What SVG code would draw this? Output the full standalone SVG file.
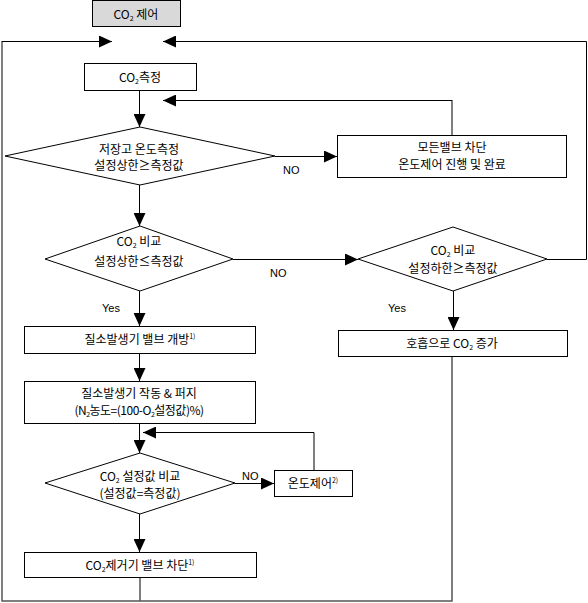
<svg xmlns="http://www.w3.org/2000/svg" width="588" height="603" viewBox="0 0 588 603">
<defs>
<marker id="ah" viewBox="0 0 13 12" refX="13" refY="6" markerWidth="13" markerHeight="12" markerUnits="userSpaceOnUse" orient="auto">
<path d="M0,0 L13,6 L0,12 z" fill="#000"/>
</marker>
<style>
.box{fill:#fff;stroke:#000;stroke-width:1}
.gray{fill:#d9d9d9;stroke:#000;stroke-width:1}
.dia{fill:#fff;stroke:#000;stroke-width:1}
.t{font-family:"Noto Sans CJK KR","Noto Sans",sans-serif;font-size:12px;fill:#000;text-anchor:middle}
.l{font-family:"Liberation Sans",Arial,sans-serif;font-size:11px;fill:#000}
.sub{font-size:7px}
.sup{font-size:7px}
.c{fill:none;stroke:#000;stroke-width:1}
.g{fill:none;stroke:#555;stroke-width:1.5}
</style>
</defs>
<rect width="588" height="603" fill="#fff"/>
<g id="connectors">
<path class="g" d="M452,356 V601 H2 V41"/>
<path class="c" d="M2,41.5 H112" marker-end="url(#ah)"/>
<path class="g" d="M140,577 V601"/>
<path class="c" d="M547,259.5 H586.5 V41.5 H163" marker-end="url(#ah)"/>
<path class="c" d="M139.5,90 V127" marker-end="url(#ah)"/>
<path class="c" d="M139.5,185 V226" marker-end="url(#ah)"/>
<path class="c" d="M275,156.5 H337" marker-end="url(#ah)"/>
<path class="g" d="M452,135 V100"/>
<path class="c" d="M452,100.5 H163" marker-end="url(#ah)"/>
<path class="c" d="M233,259.5 H358" marker-end="url(#ah)"/>
<path class="c" d="M139.5,291 V326" marker-end="url(#ah)"/>
<path class="c" d="M453.5,291 V330" marker-end="url(#ah)"/>
<path class="c" d="M139.5,353 V381" marker-end="url(#ah)"/>
<path class="c" d="M139.5,423 V453" marker-end="url(#ah)"/>
<path class="g" d="M314,470 V432.5"/>
<path class="c" d="M314,432.5 H143" marker-end="url(#ah)"/>
<path class="c" d="M235,483.5 H274" marker-end="url(#ah)"/>
<path class="c" d="M139.5,514 V552" marker-end="url(#ah)"/>
<text class="l" x="283" y="174">NO</text>
<text class="l" x="270" y="277">NO</text>
<text class="l" x="102" y="312">Yes</text>
<text class="l" x="388" y="312">Yes</text>
<text class="l" x="242" y="480">NO</text>
</g>
<g id="n-co2-control">
<rect class="gray" x="92.5" y="0.5" width="88" height="26"/>
<text class="t" x="136" y="19">CO<tspan class="sub" dy="2">2</tspan><tspan dy="-2"> 제어</tspan></text>
</g>
<g id="n-co2-measure">
<rect class="box" x="84.5" y="63.5" width="112" height="27"/>
<text class="t" x="140" y="82">CO<tspan class="sub" dy="2">2</tspan><tspan dy="-2">측정</tspan></text>
</g>
<g id="n-temp-check">
<polygon class="dia" points="140,127 275,156 140,185 5,156"/>
<text class="t" x="139" y="154">저장고 온도측정</text>
<text class="t" x="139" y="170">설정상한≥측정값</text>
</g>
<g id="n-all-valves">
<rect class="box" x="337.5" y="135.5" width="229" height="42"/>
<text class="t" x="452" y="152">모든밸브 차단</text>
<text class="t" x="452" y="169">온도제어 진행 및 완료</text>
</g>
<g id="n-co2-upper">
<polygon class="dia" points="140,226 233,259 140,291 45,259"/>
<text class="t" x="139" y="246">CO<tspan class="sub" dy="2">2</tspan><tspan dy="-2"> 비교</tspan></text>
<text class="t" x="139" y="266">설정상한≤측정값</text>
</g>
<g id="n-co2-lower">
<polygon class="dia" points="453,227 547,259 453,291 358,259"/>
<text class="t" x="453" y="255">CO<tspan class="sub" dy="2">2</tspan><tspan dy="-2"> 비교</tspan></text>
<text class="t" x="453" y="273">설정하한≥측정값</text>
</g>
<g id="n-n2-valve-open">
<rect class="box" x="24.5" y="326.5" width="231" height="27"/>
<text class="t" x="140" y="344">질소발생기 밸브 개방<tspan class="sup" dy="-5">1)</tspan></text>
</g>
<g id="n-respiration">
<rect class="box" x="338.5" y="330.5" width="229" height="26"/>
<text class="t" x="452" y="348">호흡으로 CO<tspan class="sub" dy="2">2</tspan><tspan dy="-2"> 증가</tspan></text>
</g>
<g id="n-n2-purge">
<rect class="box" x="24.5" y="381.5" width="231" height="42"/>
<text class="t" x="139" y="398">질소발생기 작동 &amp; 퍼지</text>
<text class="t" x="139" y="415" letter-spacing="-0.5">(N<tspan class="sub" dy="2">2</tspan><tspan dy="-2">농도=(100-O</tspan><tspan class="sub" dy="2">2</tspan><tspan dy="-2">설정값)%)</tspan></text>
</g>
<g id="n-co2-setpoint">
<polygon class="dia" points="140,453 235,483 140,514 45,483"/>
<text class="t" x="140" y="481">CO<tspan class="sub" dy="2">2</tspan><tspan dy="-2"> 설정값 비교</tspan></text>
<text class="t" x="140" y="498">(설정값=측정값)</text>
</g>
<g id="n-temp-control">
<rect class="box" x="274.5" y="470.5" width="78" height="26"/>
<text class="t" x="313" y="488">온도제어<tspan class="sup" dy="-5">2)</tspan></text>
</g>
<g id="n-co2-remover">
<rect class="box" x="24.5" y="552.5" width="232" height="25"/>
<text class="t" x="140" y="570">CO<tspan class="sub" dy="2">2</tspan><tspan dy="-2">제거기 밸브 차단</tspan><tspan class="sup" dy="-5">1)</tspan></text>
</g>
</svg>
